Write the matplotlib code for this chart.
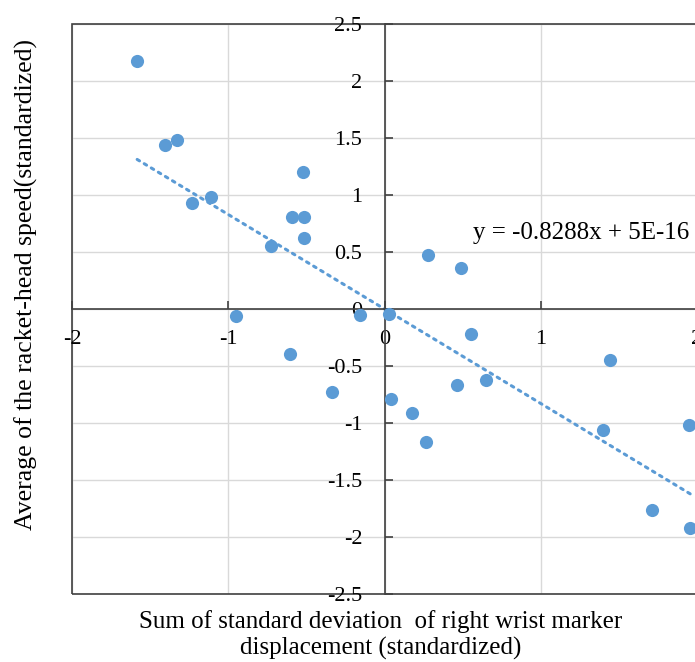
import matplotlib.pyplot as plt
from matplotlib.patches import Rectangle

plt.rcParams['font.family'] = ['Liberation Serif', 'DejaVu Serif']

# standardized values
wrist_sd = [-1.583, -1.406, -1.331, -1.231, -1.109, -0.724, -0.590, -0.515,
            -0.524, -0.515, -0.953, -0.160, 0.026, -0.603, -0.338, 0.043,
            0.175, 0.267, 0.464, 0.650, 0.551, 1.442, 1.400, 1.949,
            1.709, 1.957, 0.280, 0.487]
head_speed = [2.175, 1.436, 1.482, 0.927, 0.982, 0.553, 0.807, 0.807,
              1.199, 0.626, -0.061, -0.053, -0.047, -0.398, -0.728, -0.787,
              -0.909, -1.164, -0.670, -0.623, -0.219, -0.444, -1.061, -1.015,
              -1.766, -1.918, 0.474, 0.357]
slope = -0.8288
intercept = 0.0
eq_text = 'y = -0.8288x + 5E-16'

xticks = [-2, -1, 0, 1, 2]
yticks = [-2.5, -2, -1.5, -1, -0.5, 0, 0.5, 1, 1.5, 2, 2.5]

blue = '#5B9BD5'
dark = '#404040'

fig = plt.figure(figsize=(6.95, 6.62), dpi=100)
ax = fig.add_axes([72 / 695, 68 / 662, 625 / 695, 570 / 662])
ax.set_xlim(-2, 2)
ax.set_ylim(-2.5, 2.5)

# gridlines
for gx in xticks:
    ax.axvline(gx, color='#D9D9D9', lw=1, zorder=0)
for gy in yticks:
    ax.axhline(gy, color='#D9D9D9', lw=1, zorder=0)

# axes crossing at zero
ax.spines['left'].set_position(('data', 0))
ax.spines['bottom'].set_position(('data', 0))
ax.spines['right'].set_visible(False)
ax.spines['top'].set_visible(False)
for s in ['left', 'bottom']:
    ax.spines[s].set_color(dark)
    ax.spines[s].set_linewidth(1.2)
ax.add_patch(Rectangle((0, 0), 1, 1, transform=ax.transAxes, fill=False,
                       edgecolor=dark, lw=1.2, zorder=1, clip_on=False))

ax.set_xticks(xticks)
ax.set_xticklabels([str(t) for t in xticks])
ax.set_yticks(yticks)
ax.set_yticklabels(['%g' % t for t in yticks])
ax.tick_params(axis='both', direction='in', length=6, width=1.2, color=dark,
               labelsize=16, labelcolor='black')
ax.tick_params(axis='y', pad=16)
ax.tick_params(axis='x', pad=15)

ax.scatter(wrist_sd, head_speed, s=90, color=blue, zorder=3, linewidths=0)

# linear trendline over the data range
x0, x1 = min(wrist_sd), max(wrist_sd)
ax.plot([x0, x1], [slope * x0 + intercept, slope * x1 + intercept],
        color=blue, lw=2.2, linestyle=(0, (0.9, 1.8)), dash_capstyle='round',
        zorder=2)

ax.text(473 / 695, 1 - 233 / 662, eq_text, transform=fig.transFigure,
        fontsize=18, va='center', ha='left')

fig.text(381 / 695, 1 - 635 / 662,
         'Sum of standard deviation  of right wrist marker\ndisplacement (standardized)',
         ha='center', va='center', fontsize=18, linespacing=1.2)
fig.text(26 / 695, 1 - 284 / 662, 'Average of the racket-head speed(standardized)',
         rotation=90, ha='center', va='center', fontsize=18.5)

plt.savefig('out.png', dpi=100)
